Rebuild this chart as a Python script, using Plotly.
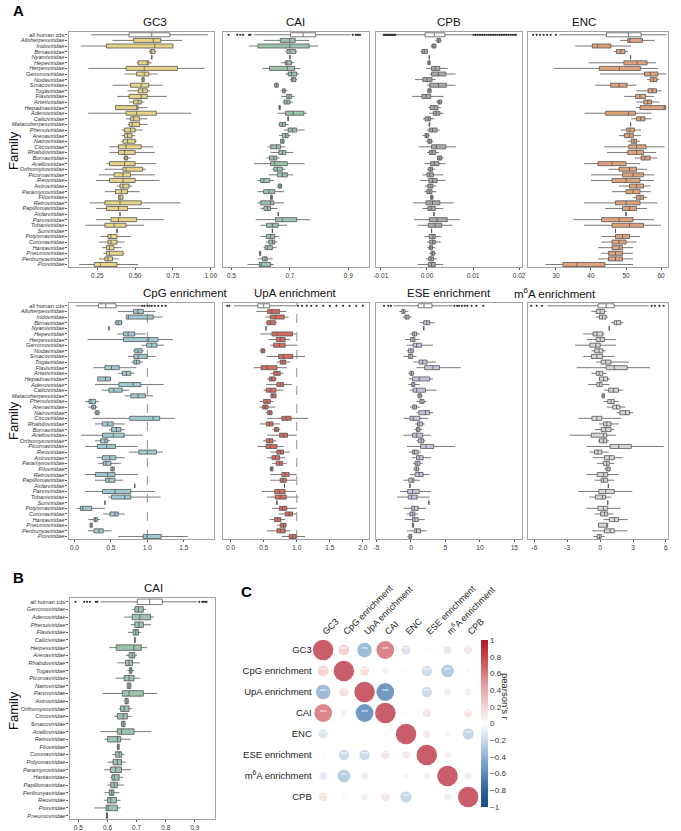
import plotly.graph_objects as go

W, H = 681, 831          # reference picture size (coordinates below are read in these pixels)
FIG_W = 697              # page is photographed slightly wider than the window, so stretch to fill

# --- families (panel A order) ---
families = ["all human cds", "Alloherpesviridae", "Iridoviridae", "Birnaviridae", "Nyamiviridae",
            "Hepeviridae", "Herpesviridae", "Genomoviridae", "Nodaviridae", "Smacoviridae",
            "Togaviridae", "Flaviviridae", "Arteriviridae", "Hepadnaviridae", "Adenoviridae",
            "Caliciviridae", "Malacoherpesviridae", "Phenuiviridae", "Arenaviridae", "Nairoviridae",
            "Circoviridae", "Rhabdoviridae", "Bornaviridae", "Anelloviridae", "Orthomyxoviridae",
            "Picornaviridae", "Reoviridae", "Astroviridae", "Paramyxoviridae", "Filoviridae",
            "Retroviridae", "Papillomaviridae", "Asfarviridae", "Parvoviridae", "Tobaniviridae",
            "Sunviridae", "Polyomaviridae", "Coronaviridae", "Hantaviridae", "Pneumoviridae",
            "Peribunyaviridae", "Poxviridae"]

# panel B order (sorted by CAI)
families_b = ["all human cds", "Genomoviridae", "Adenoviridae", "Phenuiviridae", "Flaviviridae",
              "Caliciviridae", "Herpesviridae", "Arenaviridae", "Rhabdoviridae", "Togaviridae",
              "Picornaviridae", "Nairoviridae", "Parvoviridae", "Astroviridae", "Orthomyxoviridae",
              "Circoviridae", "Smacoviridae", "Anelloviridae", "Retroviridae", "Filoviridae",
              "Coronaviridae", "Polyomaviridae", "Paramyxoviridae", "Hantaviridae", "Papillomaviridae",
              "Peribunyaviridae", "Reoviridae", "Poxviridae", "Pneumoviridae"]

# box stats per family: (lower whisker, q1, median, q3, upper whisker)
gc3 = [(0.21, 0.46, 0.61, 0.73, 0.98), (0.35, 0.49, 0.62, 0.67, 0.81), (0.14, 0.31, 0.63, 0.75, 0.75),
       (0.59, 0.60, 0.61, 0.63, 0.64), (0.61, 0.61, 0.61, 0.61, 0.61), (0.51, 0.52, 0.58, 0.59, 0.61),
       (0.19, 0.44, 0.56, 0.78, 0.96), (0.43, 0.51, 0.56, 0.59, 0.65), (0.54, 0.545, 0.55, 0.56, 0.565),
       (0.35, 0.47, 0.54, 0.59, 0.68), (0.45, 0.52, 0.55, 0.58, 0.60), (0.38, 0.46, 0.54, 0.58, 0.71),
       (0.46, 0.49, 0.52, 0.54, 0.56), (0.37, 0.37, 0.51, 0.52, 0.58), (0.19, 0.44, 0.51, 0.64, 0.87),
       (0.44, 0.47, 0.49, 0.53, 0.58), (0.45, 0.46, 0.48, 0.53, 0.58), (0.41, 0.43, 0.47, 0.50, 0.55),
       (0.41, 0.43, 0.45, 0.48, 0.50), (0.41, 0.42, 0.45, 0.50, 0.51), (0.33, 0.39, 0.44, 0.54, 0.62),
       (0.33, 0.39, 0.43, 0.50, 0.63), (0.42, 0.43, 0.44, 0.45, 0.47), (0.31, 0.33, 0.43, 0.50, 0.64),
       (0.30, 0.42, 0.44, 0.55, 0.57), (0.26, 0.36, 0.42, 0.47, 0.63), (0.24, 0.33, 0.42, 0.50, 0.66),
       (0.38, 0.40, 0.42, 0.46, 0.48), (0.30, 0.37, 0.41, 0.45, 0.53), (0.39, 0.39, 0.40, 0.42, 0.42),
       (0.20, 0.30, 0.40, 0.54, 0.80), (0.24, 0.31, 0.39, 0.45, 0.60), (0.40, 0.40, 0.40, 0.40, 0.40),
       (0.24, 0.34, 0.39, 0.51, 0.69), (0.17, 0.30, 0.36, 0.44, 0.56), (0.38, 0.38, 0.38, 0.38, 0.38),
       (0.27, 0.32, 0.34, 0.38, 0.47), (0.26, 0.32, 0.34, 0.38, 0.43), (0.28, 0.31, 0.33, 0.36, 0.41),
       (0.29, 0.31, 0.33, 0.42, 0.43), (0.26, 0.30, 0.32, 0.35, 0.39), (0.13, 0.23, 0.27, 0.38, 0.52)]

cai = [(0.577, 0.702, 0.745, 0.788, 0.907), (0.61, 0.667, 0.699, 0.718, 0.766), (0.559, 0.591, 0.70, 0.766, 0.797),
       (0.685, 0.69, 0.70, 0.72, 0.725), (0.70, 0.70, 0.70, 0.70, 0.70), (0.67, 0.684, 0.69, 0.705, 0.715),
       (0.606, 0.630, 0.691, 0.716, 0.736), (0.685, 0.694, 0.706, 0.723, 0.731), (0.70, 0.705, 0.71, 0.72, 0.725),
       (0.646, 0.648, 0.654, 0.660, 0.662), (0.668, 0.675, 0.680, 0.684, 0.691), (0.670, 0.688, 0.697, 0.706, 0.716),
       (0.675, 0.68, 0.69, 0.70, 0.71), (0.66, 0.663, 0.665, 0.667, 0.67), (0.657, 0.685, 0.711, 0.748, 0.759),
       (0.692, 0.693, 0.694, 0.695, 0.696), (0.66, 0.665, 0.675, 0.685, 0.695), (0.680, 0.694, 0.708, 0.723, 0.750),
       (0.663, 0.674, 0.685, 0.694, 0.702), (0.668, 0.668, 0.674, 0.680, 0.682), (0.623, 0.634, 0.654, 0.668, 0.683),
       (0.634, 0.662, 0.674, 0.686, 0.711), (0.62, 0.63, 0.645, 0.655, 0.665), (0.577, 0.634, 0.648, 0.691, 0.750),
       (0.640, 0.645, 0.657, 0.674, 0.685), (0.628, 0.657, 0.674, 0.691, 0.711), (0.589, 0.600, 0.611, 0.631, 0.645),
       (0.656, 0.660, 0.666, 0.671, 0.674), (0.589, 0.610, 0.628, 0.648, 0.680), (0.632, 0.634, 0.636, 0.640, 0.641),
       (0.589, 0.600, 0.634, 0.645, 0.680), (0.600, 0.611, 0.623, 0.634, 0.657), (0.66, 0.66, 0.66, 0.66, 0.66),
       (0.583, 0.651, 0.674, 0.723, 0.770), (0.60, 0.62, 0.64, 0.66, 0.69), (0.64, 0.64, 0.64, 0.64, 0.64),
       (0.600, 0.619, 0.634, 0.648, 0.663), (0.617, 0.628, 0.640, 0.648, 0.657), (0.610, 0.615, 0.623, 0.640, 0.654),
       (0.595, 0.596, 0.598, 0.600, 0.601), (0.590, 0.606, 0.615, 0.622, 0.641), (0.555, 0.595, 0.602, 0.634, 0.645)]

cpb = [(-0.0065, -0.0004, 0.0016, 0.0039, 0.0099), (0.0018, 0.0022, 0.0025, 0.0029, 0.0032),
       (0.0008, 0.0011, 0.0015, 0.0019, 0.0021), (-0.0014, -0.0011, -0.0006, 0.0001, 0.0002),
       (0.0005, 0.0005, 0.0005, 0.0005, 0.0005), (0.0001, 0.0002, 0.0005, 0.0007, 0.0008),
       (-0.0002, 0.0010, 0.0018, 0.0028, 0.0046), (0.0006, 0.0010, 0.0025, 0.0041, 0.0062),
       (-0.0026, -0.0009, 0.0000, 0.0011, 0.0019), (0.0000, 0.0006, 0.0025, 0.0042, 0.0062),
       (0.0000, 0.0002, 0.0005, 0.0009, 0.0011), (-0.0032, -0.0011, -0.0002, 0.0008, 0.0036),
       (0.0020, 0.0024, 0.0027, 0.0031, 0.0034), (0.0003, 0.0007, 0.0016, 0.0024, 0.0030),
       (0.0005, 0.0014, 0.0020, 0.0028, 0.0036), (-0.0009, -0.0004, 0.0003, 0.0008, 0.0016),
       (0.0004, 0.0005, 0.0005, 0.0006, 0.0007), (0.0000, 0.0005, 0.0012, 0.0022, 0.0028),
       (-0.0010, -0.0004, -0.0001, 0.0003, 0.0006), (-0.0002, 0.0002, 0.0006, 0.0010, 0.0014),
       (-0.0018, 0.0010, 0.0020, 0.0041, 0.0063), (0.0000, 0.0005, 0.0011, 0.0019, 0.0026),
       (0.0021, 0.0023, 0.0028, 0.0032, 0.0036), (-0.0005, 0.0008, 0.0016, 0.0026, 0.0040),
       (0.0000, 0.0004, 0.0008, 0.0012, 0.0018), (-0.0010, 0.0000, 0.0006, 0.0014, 0.0035),
       (-0.0015, 0.0004, 0.0012, 0.0022, 0.0040), (-0.0005, 0.0002, 0.0008, 0.0013, 0.0020),
       (-0.0005, 0.0000, 0.0005, 0.0011, 0.0020), (0.0006, 0.0008, 0.0010, 0.0013, 0.0015),
       (-0.0030, -0.0002, 0.0012, 0.0028, 0.0058), (-0.0010, 0.0002, 0.0009, 0.0018, 0.0035),
       (0.0015, 0.0015, 0.0015, 0.0015, 0.0015), (-0.0028, 0.0005, 0.0022, 0.0044, 0.0072),
       (-0.0020, 0.0003, 0.0018, 0.0032, 0.0055), (0.0010, 0.0010, 0.0010, 0.0010, 0.0010),
       (-0.0005, 0.0005, 0.0013, 0.0018, 0.0030), (0.0000, 0.0006, 0.0012, 0.0018, 0.0030),
       (0.0000, 0.0005, 0.0008, 0.0012, 0.0018), (0.0005, 0.0009, 0.0012, 0.0016, 0.0020),
       (-0.0002, 0.0004, 0.0009, 0.0014, 0.0022), (-0.0020, 0.0003, 0.0010, 0.0018, 0.0035)]

enc = [(31.0, 44.4, 50.7, 54.3, 61.5), (48.3, 50.5, 51.1, 54.7, 58.2), (35.5, 40.4, 41.9, 45.7, 51.5),
       (46.5, 47.3, 48.5, 49.7, 50.5), (51.3, 51.3, 51.3, 51.3, 51.3), (39.3, 49.4, 53.2, 56.0, 58.6),
       (29.4, 42.4, 48.1, 54.1, 59.2), (42.6, 55.3, 56.9, 59.1, 61.5), (56.0, 56.9, 57.8, 58.8, 59.5),
       (41.2, 45.6, 48.0, 50.3, 53.0), (53.0, 56.3, 57.5, 58.7, 60.1), (49.5, 52.7, 54.0, 55.6, 58.0),
       (53.0, 55.1, 56.2, 57.3, 59.5), (52.8, 54.0, 60.9, 61.3, 61.5), (38.2, 44.2, 50.7, 52.7, 57.3),
       (51.5, 53.0, 54.2, 55.4, 57.2), (51.3, 51.3, 51.3, 51.3, 51.3), (48.5, 50.2, 51.1, 52.4, 54.3),
       (48.0, 49.5, 51.0, 52.1, 54.3), (50.5, 51.5, 52.3, 53.0, 54.0), (43.8, 50.8, 53.0, 55.7, 61.0),
       (44.6, 50.5, 53.0, 55.0, 58.6), (52.5, 54.3, 55.4, 56.9, 58.9), (38.0, 42.0, 46.0, 50.0, 54.0),
       (45.0, 48.0, 51.0, 53.0, 56.0), (40.0, 49.0, 52.0, 55.0, 58.0), (40.0, 46.0, 50.0, 54.0, 58.0),
       (48.0, 51.0, 53.0, 55.0, 57.0), (46.0, 50.0, 52.0, 54.0, 57.0), (52.0, 53.0, 54.0, 55.0, 56.0),
       (38.0, 47.0, 50.0, 54.0, 59.0), (44.0, 49.0, 51.0, 53.0, 56.0), (50.0, 50.0, 50.0, 50.0, 50.0),
       (35.0, 43.0, 48.0, 52.0, 58.0), (38.0, 46.0, 51.0, 55.0, 60.0), (47.0, 47.0, 47.0, 47.0, 47.0),
       (43.0, 47.0, 49.0, 51.0, 54.0), (43.0, 46.0, 48.0, 50.0, 53.0), (42.0, 46.0, 48.0, 49.0, 52.0),
       (43.0, 45.0, 47.0, 49.0, 52.0), (42.0, 45.0, 47.0, 49.0, 52.0), (27.0, 32.0, 36.0, 44.0, 52.0)]

cpg = [(0.02, 0.33, 0.43, 0.57, 0.92), (0.60, 0.81, 0.87, 0.945, 1.11), (0.71, 0.71, 0.74, 1.08, 1.21),
       (0.55, 0.568, 0.60, 0.645, 0.66), (0.473, 0.473, 0.473, 0.473, 0.473), (0.586, 0.673, 0.736, 0.827, 0.973),
       (0.18, 0.673, 1.018, 1.145, 1.35), (0.92, 0.99, 1.06, 1.13, 1.23), (0.80, 0.827, 0.873, 0.927, 0.95),
       (0.736, 0.814, 0.873, 0.995, 1.109), (0.78, 0.814, 0.85, 0.895, 0.94), (0.259, 0.418, 0.509, 0.614, 0.85),
       (0.60, 0.655, 0.714, 0.773, 0.82), (0.318, 0.318, 0.427, 0.495, 0.50), (0.282, 0.609, 0.805, 0.909, 1.223),
       (0.373, 0.473, 0.541, 0.655, 0.75), (0.69, 0.773, 0.873, 0.973, 1.077), (0.145, 0.20, 0.227, 0.29, 0.336),
       (0.19, 0.236, 0.259, 0.29, 0.32), (0.27, 0.29, 0.31, 0.336, 0.35), (0.245, 0.759, 1.077, 1.168, 1.373),
       (0.282, 0.382, 0.455, 0.532, 0.69), (0.473, 0.509, 0.577, 0.636, 0.69), (0.09, 0.386, 0.532, 0.682, 0.94),
       (0.282, 0.36, 0.418, 0.455, 0.49), (0.145, 0.314, 0.441, 0.564, 0.864), (0.745, 0.882, 1.0, 1.123, 1.214),
       (0.305, 0.382, 0.486, 0.568, 0.69), (0.327, 0.395, 0.432, 0.50, 0.636), (0.49, 0.50, 0.52, 0.545, 0.55),
       (0.145, 0.29, 0.455, 0.555, 0.873), (0.282, 0.427, 0.473, 0.555, 0.668), (0.827, 0.827, 0.827, 0.827, 0.827),
       (0.145, 0.386, 0.555, 0.773, 1.10), (0.464, 0.509, 0.69, 0.773, 1.18), (0.418, 0.418, 0.418, 0.418, 0.418),
       (0.032, 0.082, 0.114, 0.236, 0.418), (0.395, 0.486, 0.555, 0.60, 0.69), (0.19, 0.268, 0.29, 0.314, 0.35),
       (0.214, 0.214, 0.23, 0.245, 0.245), (0.19, 0.268, 0.336, 0.395, 0.509), (0.60, 0.941, 0.995, 1.19, 1.555)]

upa = [(0.05, 0.41, 0.50, 0.59, 1.0), (0.39, 0.56, 0.625, 0.74, 0.84), (0.525, 0.60, 0.675, 0.81, 0.875),
       (0.525, 0.55, 0.60, 0.675, 0.70), (0.535, 0.535, 0.535, 0.535, 0.535), (0.45, 0.625, 0.70, 0.935, 0.99),
       (0.575, 0.69, 0.75, 0.825, 0.90), (0.60, 0.65, 0.74, 0.825, 1.01), (0.44, 0.46, 0.49, 0.515, 0.53),
       (0.54, 0.725, 0.80, 0.94, 1.125), (0.70, 0.75, 0.79, 0.835, 0.90), (0.35, 0.46, 0.55, 0.70, 0.85),
       (0.60, 0.65, 0.70, 0.75, 0.80), (0.55, 0.585, 0.62, 0.675, 0.70), (0.54, 0.70, 0.75, 0.80, 0.93),
       (0.50, 0.54, 0.61, 0.685, 0.80), (0.60, 0.61, 0.64, 0.685, 0.70), (0.44, 0.50, 0.55, 0.60, 0.65),
       (0.44, 0.485, 0.52, 0.565, 0.675), (0.53, 0.56, 0.59, 0.625, 0.64), (0.55, 0.775, 0.84, 0.915, 1.175),
       (0.44, 0.54, 0.59, 0.64, 0.75), (0.63, 0.665, 0.69, 0.725, 0.75), (0.55, 0.74, 0.80, 0.86, 1.0),
       (0.49, 0.54, 0.59, 0.64, 0.69), (0.41, 0.535, 0.60, 0.70, 0.80), (0.60, 0.70, 0.75, 0.80, 0.90),
       (0.55, 0.625, 0.675, 0.74, 0.825), (0.625, 0.69, 0.74, 0.785, 0.85), (0.60, 0.60, 0.62, 0.64, 0.64),
       (0.60, 0.775, 0.825, 0.885, 1.0), (0.60, 0.75, 0.79, 0.84, 0.99), (0.815, 0.815, 0.815, 0.815, 0.815),
       (0.475, 0.665, 0.74, 0.825, 0.99), (0.55, 0.675, 0.75, 0.84, 1.025), (0.70, 0.70, 0.70, 0.70, 0.70),
       (0.625, 0.74, 0.785, 0.85, 1.0), (0.725, 0.825, 0.885, 0.935, 1.0), (0.59, 0.665, 0.715, 0.76, 0.825),
       (0.70, 0.75, 0.80, 0.835, 0.85), (0.55, 0.70, 0.75, 0.825, 0.90), (0.775, 0.885, 0.935, 0.99, 1.125)]

ese = [(-2.5, 1.05, 1.9, 3.05, 6.05), (-1.67, -1.33, -1.1, -0.86, -0.38), (-1.19, -0.86, -0.6, -0.29, 0.1),
       (1.29, 1.86, 2.3, 2.71, 3.43), (1.86, 1.86, 1.86, 1.86, 1.86), (-0.14, 0.24, 0.5, 0.81, 1.29),
       (-0.86, -0.05, 0.3, 0.57, 1.29), (-0.62, 0.33, 0.81, 1.52, 3.19), (-0.6, -0.38, 0.0, 0.33, 0.5),
       (-1.1, -0.38, -0.1, 0.24, 0.81), (0.33, 1.19, 1.7, 2.33, 3.67), (0.81, 2.0, 3.19, 4.14, 7.24),
       (-0.4, -0.14, 0.1, 0.33, 0.5), (-0.3, 0.24, 1.2, 2.71, 3.2), (-0.4, 0.1, 0.3, 0.57, 1.3),
       (-0.14, 0.33, 0.81, 2.1, 3.7), (0.9, 1.05, 1.3, 1.52, 1.7), (0.8, 1.29, 1.6, 1.9, 2.24),
       (-0.14, 0.24, 0.5, 0.81, 1.29), (0.81, 1.14, 2.1, 2.71, 3.2), (-1.1, -0.14, 0.33, 1.29, 2.5),
       (0.6, 0.95, 1.2, 1.7, 2.0), (0.5, 0.8, 1.0, 1.3, 1.6), (-1.1, 0.24, 0.8, 1.7, 2.9),
       (0.8, 1.1, 1.5, 1.85, 2.1), (-0.6, 1.4, 2.2, 3.3, 6.4), (-0.3, 0.24, 0.5, 1.05, 1.5),
       (0.1, 0.81, 1.2, 1.76, 2.9), (0.3, 0.6, 0.9, 1.3, 1.7), (0.4, 0.57, 0.8, 1.1, 1.3),
       (-0.14, 0.6, 1.2, 1.76, 2.71), (-1.1, -0.3, 0.2, 0.45, 1.29), (-0.14, -0.14, -0.14, -0.14, -0.14),
       (-1.57, -0.48, 0.24, 1.2, 2.9), (-2.0, -0.4, 0.1, 0.9, 2.71), (2.6, 2.6, 2.6, 2.6, 2.6),
       (-1.1, 0.1, 0.5, 1.05, 2.24), (-0.62, -0.14, 0.24, 0.57, 1.05), (-0.9, 0.24, 0.57, 1.05, 2.0),
       (0.15, 0.2, 0.3, 0.4, 0.45), (-0.6, 0.5, 0.81, 1.4, 2.24), (-0.5, -0.3, -0.1, 0.1, 0.2)]

m6a = [(-4.8, -0.2, 0.54, 1.28, 4.4), (-0.8, -0.36, 0.0, 0.39, 0.6), (-0.4, -0.06, 0.2, 0.54, 0.7),
       (1.0, 1.28, 1.5, 1.88, 2.1), (0.83, 0.83, 0.83, 0.83, 0.83), (-1.55, -0.65, -0.3, 0.24, 0.39),
       (-1.25, -0.36, 0.0, 0.39, 1.43), (-2.29, -0.95, -0.4, 0.0, 1.43), (-0.8, -0.5, -0.1, 0.24, 0.5),
       (-1.55, -0.8, -0.3, 0.24, 1.28), (-0.36, 0.09, 0.5, 0.98, 2.62), (-2.14, 0.54, 1.3, 2.47, 4.55),
       (-0.8, -0.36, -0.1, 0.24, 0.6), (-0.1, -0.06, 0.3, 0.68, 0.9), (-1.1, -0.3, -0.05, 0.18, 0.84),
       (0.3, 0.78, 1.2, 1.68, 2.1), (0.1, 0.18, 0.25, 0.39, 0.45), (0.3, 0.69, 1.0, 1.29, 1.7),
       (0.6, 1.14, 1.5, 1.8, 2.3), (1.5, 1.8, 2.3, 2.69, 3.0), (-2.0, -0.75, -0.3, 0.15, 1.89),
       (-0.1, 0.3, 0.6, 0.99, 1.7), (-0.5, 0.09, 0.5, 0.99, 1.3), (-2.81, -0.81, 0.3, 0.6, 1.44),
       (-0.2, -0.06, 0.3, 0.6, 0.8), (-1.26, 0.9, 1.7, 2.84, 5.78), (-1.0, -0.51, -0.2, 0.15, 0.8),
       (-0.66, 0.39, 0.84, 1.29, 2.04), (-0.3, 0.3, 0.6, 0.84, 1.3), (0.4, 0.54, 0.7, 0.9, 1.0),
       (-1.26, -0.27, 0.3, 0.69, 1.68), (-0.5, 0.09, 0.3, 0.69, 1.3), (0.75, 0.75, 0.75, 0.75, 0.75),
       (-2.0, -0.12, 0.5, 1.29, 2.93), (-1.0, -0.42, 0.2, 0.48, 1.0), (0.69, 0.69, 0.69, 0.69, 0.69),
       (-1.26, -0.21, 0.3, 0.69, 1.89), (-0.5, 0.03, 0.4, 0.69, 1.2), (0.3, 0.84, 1.3, 1.68, 2.5),
       (-0.21, -0.15, 0.6, 0.69, 0.7), (-0.72, 0.39, 0.9, 1.29, 2.49), (-0.6, -0.27, -0.05, 0.09, 0.4)]

# outliers of the "all human cds" rows
cai_out = [0.49, 0.52, 0.53, 0.54, 0.56, 0.565, 0.915, 0.925, 0.93, 0.935, 0.94]
cpb_out = [-0.0094, -0.0092, -0.0090, -0.0088, -0.0086, -0.0084, -0.0082, -0.0080, -0.0078, -0.0076,
           -0.0074, -0.0072, -0.0070, -0.0068, 0.0101, 0.0105, 0.0109, 0.0113, 0.0117, 0.0121,
           0.0125, 0.0129, 0.0133, 0.0137, 0.0141, 0.0145, 0.0149, 0.0153, 0.0157, 0.0161,
           0.0165, 0.0169, 0.0173, 0.0177, 0.0181, 0.0185, 0.0189, 0.0193]
enc_out = [23.5, 24.5, 25.5, 26.5, 27.5, 28.5, 30.0]
cpg_out = [0.93, 0.96, 1.0, 1.03, 1.06, 1.1, 1.15, 1.2, 1.25]
upa_out = [-0.05, -0.02, 1.02, 1.08, 1.15, 1.22, 1.3, 1.4, 1.5, 1.6, 1.7, 1.8, 1.9, 2.0]
ese_out = [-3.9, -3.3, -2.9, 6.3, 6.7, 7.0, 7.4, 7.8, 8.2, 8.8, 9.5, 10.5]
m6a_out = [-6.3, -5.8, -5.3, 4.7, 5.0, 5.4, 5.8]

# correlation matrix (panel C)
corr_labels = ["GC3", "CpG enrichment", "UpA enrichment", "CAI", "ENC", "ESE enrichment",
               "m<sup>6</sup>A enrichment", "CPB"]
corr = [[1.00, 0.28, -0.50, 0.75, -0.20, 0.04, -0.15, 0.17],
        [0.28, 1.00, 0.20, -0.08, 0.04, -0.26, -0.38, 0.05],
        [-0.50, 0.20, 1.00, -0.75, 0.02, -0.26, -0.12, -0.10],
        [0.75, -0.08, -0.75, 1.00, 0.04, 0.18, 0.00, 0.17],
        [-0.20, 0.04, 0.02, 0.04, 1.00, 0.14, 0.08, -0.30],
        [0.04, -0.26, -0.26, 0.18, 0.14, 1.00, 0.10, 0.02],
        [-0.15, -0.38, -0.12, 0.00, 0.08, 0.10, 1.00, -0.12],
        [0.17, 0.05, -0.10, 0.17, -0.30, 0.02, -0.12, 1.00]]


def px(x):
    return x / W


def py(y):
    return 1 - y / H


FONT = "Liberation Sans, Arial, sans-serif"
LINE = "#555555"
BORDER = "#A3A3A3"

fig = go.Figure()
layout = {}
annos = []


def add_panel(n, stats, fams, color, title, xr, tv, tt, xdom, ydom, show_y, outliers):
    xa, ya = ("x%d" % n if n > 1 else "x"), ("y%d" % n if n > 1 else "y")
    common = dict(orientation="h", whiskerwidth=0, width=0.72, boxpoints=False,
                  line=dict(color=LINE, width=0.8), xaxis=xa, yaxis=ya,
                  showlegend=False, hoverinfo="skip")
    s0 = stats[0]
    fig.add_trace(go.Box(y=[fams[0]], lowerfence=[s0[0]], q1=[s0[1]], median=[s0[2]],
                         q3=[s0[3]], upperfence=[s0[4]], fillcolor="white", **common))
    rest = stats[1:]
    fig.add_trace(go.Box(y=fams[1:], lowerfence=[s[0] for s in rest], q1=[s[1] for s in rest],
                         median=[s[2] for s in rest], q3=[s[3] for s in rest],
                         upperfence=[s[4] for s in rest], fillcolor=color, **common))
    if outliers:
        fig.add_trace(go.Scatter(x=outliers, y=[fams[0]] * len(outliers), mode="markers",
                                 marker=dict(size=2.2, color="#333333"), xaxis=xa, yaxis=ya,
                                 showlegend=False, hoverinfo="skip"))
    k = "" if n == 1 else str(n)
    n_rows = len(fams)
    layout["xaxis" + k] = dict(domain=[px(xdom[0]), px(xdom[1])], anchor=ya, range=xr,
                               tickvals=tv, ticktext=tt, ticks="outside", ticklen=2,
                               tickcolor=LINE, tickwidth=0.8, showline=True, mirror=True,
                               linecolor=BORDER, linewidth=1.3, showgrid=False, zeroline=False,
                               tickfont=dict(size=6.5, color="#333333", family=FONT))
    labels = [f if f == "all human cds" else "<i>%s</i>" % f for f in fams]
    layout["yaxis" + k] = dict(domain=[py(ydom[1]), py(ydom[0])], anchor=xa, type="category",
                               categoryorder="array", categoryarray=fams,
                               range=[n_rows - 1 + 0.45, -0.5], tickvals=fams, ticktext=labels,
                               showticklabels=show_y, ticks="outside" if show_y else "",
                               ticklen=2, tickcolor=LINE, tickwidth=0.7,
                               showline=True, mirror=True, linecolor=BORDER, linewidth=1.3,
                               showgrid=False, zeroline=False,
                               tickfont=dict(size=5.7, color="#333333", family=FONT))
    annos.append(dict(text=title, x=px((xdom[0] + xdom[1]) / 2), y=py(ydom[0] - 10),
                      xref="paper", yref="paper", showarrow=False, yanchor="middle",
                      font=dict(size=11.5, color="#111111", family=FONT)))


top = (32, 267)
bot = (303, 539)
cols = [(67, 213), (222, 369), (376, 523), (529, 670)]

add_panel(1, gc3, families, "#E5D585", "GC3", [0.06, 1.02], [0.25, 0.5, 0.75, 1.0],
          ["0.25", "0.50", "0.75", "1.00"], cols[0], top, True, None)
add_panel(2, cai, families, "#9CC3AC", "CAI", [0.47, 0.97], [0.5, 0.7, 0.9],
          ["0.5", "0.7", "0.9"], cols[1], top, False, cai_out)
add_panel(3, cpb, families, "#A9A9A9", "CPB", [-0.0111, 0.0206], [-0.01, 0.0, 0.01, 0.02],
          ["-0.01", "0.00", "0.01", "0.02"], cols[2], top, False, cpb_out)
add_panel(4, enc, families, "#DFA37C", "ENC", [22, 62], [30, 40, 50, 60],
          ["30", "40", "50", "60"], cols[3], top, False, enc_out)
add_panel(5, cpg, families, "#A0CAD1", "CpG enrichment", [-0.08, 1.91], [0, 0.5, 1.0, 1.5],
          ["0.0", "0.5", "1.0", "1.5"], cols[0], bot, True, cpg_out)
add_panel(6, upa, families, "#D96B60", "UpA enrichment", [-0.12, 2.09], [0, 0.5, 1.0, 1.5, 2.0],
          ["0.0", "0.5", "1.0", "1.5", "2.0"], cols[1], bot, False, upa_out)
add_panel(7, ese, families, "#C7C5DE", "ESE enrichment", [-5.1, 16.1], [-5, 0, 5, 10, 15],
          ["-5", "0", "5", "10", "15"], cols[2], bot, False, ese_out)
add_panel(8, m6a, families, "#D6D6D6", "m<sup>6</sup>A enrichment", [-6.6, 6.2], [-6, -3, 0, 3, 6],
          ["-6", "-3", "0", "3", "6"], cols[3], bot, False, m6a_out)

# panel B: CAI sorted
cai_b = [cai[families.index(f)] for f in families_b]
add_panel(9, cai_b, families_b, "#9CC3AC", "CAI", [0.47, 0.968], [0.5, 0.6, 0.7, 0.8, 0.9],
          ["0.5", "0.6", "0.7", "0.8", "0.9"], (68, 214), (598, 819), True, cai_out)

# dashed reference lines at 1
for n in (5, 6):
    fig.add_shape(type="line", x0=1, x1=1, y0=0, y1=1, xref="x%d" % n, yref="y%d domain" % n,
                  line=dict(color="#777777", width=0.8, dash="dash"))

# panel C: correlation circles
cx, cy, cv, cs = [], [], [], []
sx, sy = [], []
for i in range(8):
    for j in range(8):
        r = corr[i][j]
        cx.append(j + 1)
        cy.append(i + 1)
        cv.append(r)
        cs.append(20.5 * abs(r) ** 0.5)
        if i != j and abs(r) >= 0.17:
            sx.append(j + 1)
            sy.append(i + 1)

cscale = [[0.0, "#1B4A87"], [0.1, "#2C62A1"], [0.25, "#759FCB"], [0.4, "#CADAEA"],
          [0.5, "#FFFFFF"], [0.6, "#F4D2D2"], [0.75, "#E09696"], [0.9, "#C9434A"], [1.0, "#B2182B"]]

fig.add_trace(go.Scatter(x=cx, y=cy, mode="markers", xaxis="x10", yaxis="y10",
                         marker=dict(size=cs, color=cv, cmin=-1, cmax=1, colorscale=cscale,
                                     line=dict(width=0),
                                     colorbar=dict(x=px(482), xanchor="left", y=py(723.5),
                                                   yanchor="middle", len=(807 - 640) / H,
                                                   thickness=7, outlinewidth=0, ypad=0, xpad=0,
                                                   tickvals=[-1, -0.8, -0.6, -0.4, -0.2, 0, 0.2, 0.4, 0.6, 0.8, 1],
                                                   tickfont=dict(size=8, color="#333333", family=FONT))),
                         showlegend=False, hoverinfo="skip"))
fig.add_trace(go.Scatter(x=sx, y=sy, mode="text", text=["***"] * len(sx), xaxis="x10", yaxis="y10",
                         textfont=dict(size=5.5, color="white", family=FONT),
                         showlegend=False, hoverinfo="skip"))

layout["xaxis10"] = dict(domain=[px(312.6), px(479.4)], anchor="y10", range=[0.5, 8.5], side="top",
                         tickvals=list(range(1, 9)), ticktext=corr_labels, tickangle=-45,
                         showgrid=False, zeroline=False, showline=False, ticks="",
                         tickfont=dict(size=9, color="#222222", family=FONT))
layout["yaxis10"] = dict(domain=[py(807.5), py(639.5)], anchor="x10", range=[8.5, 0.5],
                         tickvals=list(range(1, 9)), ticktext=corr_labels,
                         showgrid=False, zeroline=False, showline=False, ticks="",
                         tickfont=dict(size=9.5, color="#222222", family=FONT))

annos.append(dict(text="pearson's r", x=px(514), y=py(722), xref="paper", yref="paper",
                  showarrow=False, textangle=90, font=dict(size=9.5, color="#222222", family=FONT)))

# "Family" axis titles and panel letters
for yy in (150, 420, 710):
    annos.append(dict(text="Family", x=px(11), y=py(yy), xref="paper", yref="paper",
                      xanchor="center", yanchor="middle",
                      showarrow=False, textangle=-90, font=dict(size=13, color="#111111", family=FONT)))
for letter, xx, yy in (("A", 9, 10), ("B", 9, 577), ("C", 238, 591)):
    annos.append(dict(text="<b>%s</b>" % letter, x=px(xx), y=py(yy), xref="paper", yref="paper",
                      showarrow=False, xanchor="left", yanchor="middle",
                      font=dict(size=15, color="#000000", family=FONT)))

fig.update_layout(width=FIG_W, height=H, margin=dict(l=0, r=0, t=0, b=0),
                  paper_bgcolor="white", plot_bgcolor="white", annotations=annos,
                  font=dict(family=FONT), **layout)

fig.write_html("out.html", config={"displayModeBar": False},
               post_script="document.body.style.margin='0px';"
                           "document.body.style.overflow='hidden';"
                           "document.documentElement.style.overflow='hidden';")
